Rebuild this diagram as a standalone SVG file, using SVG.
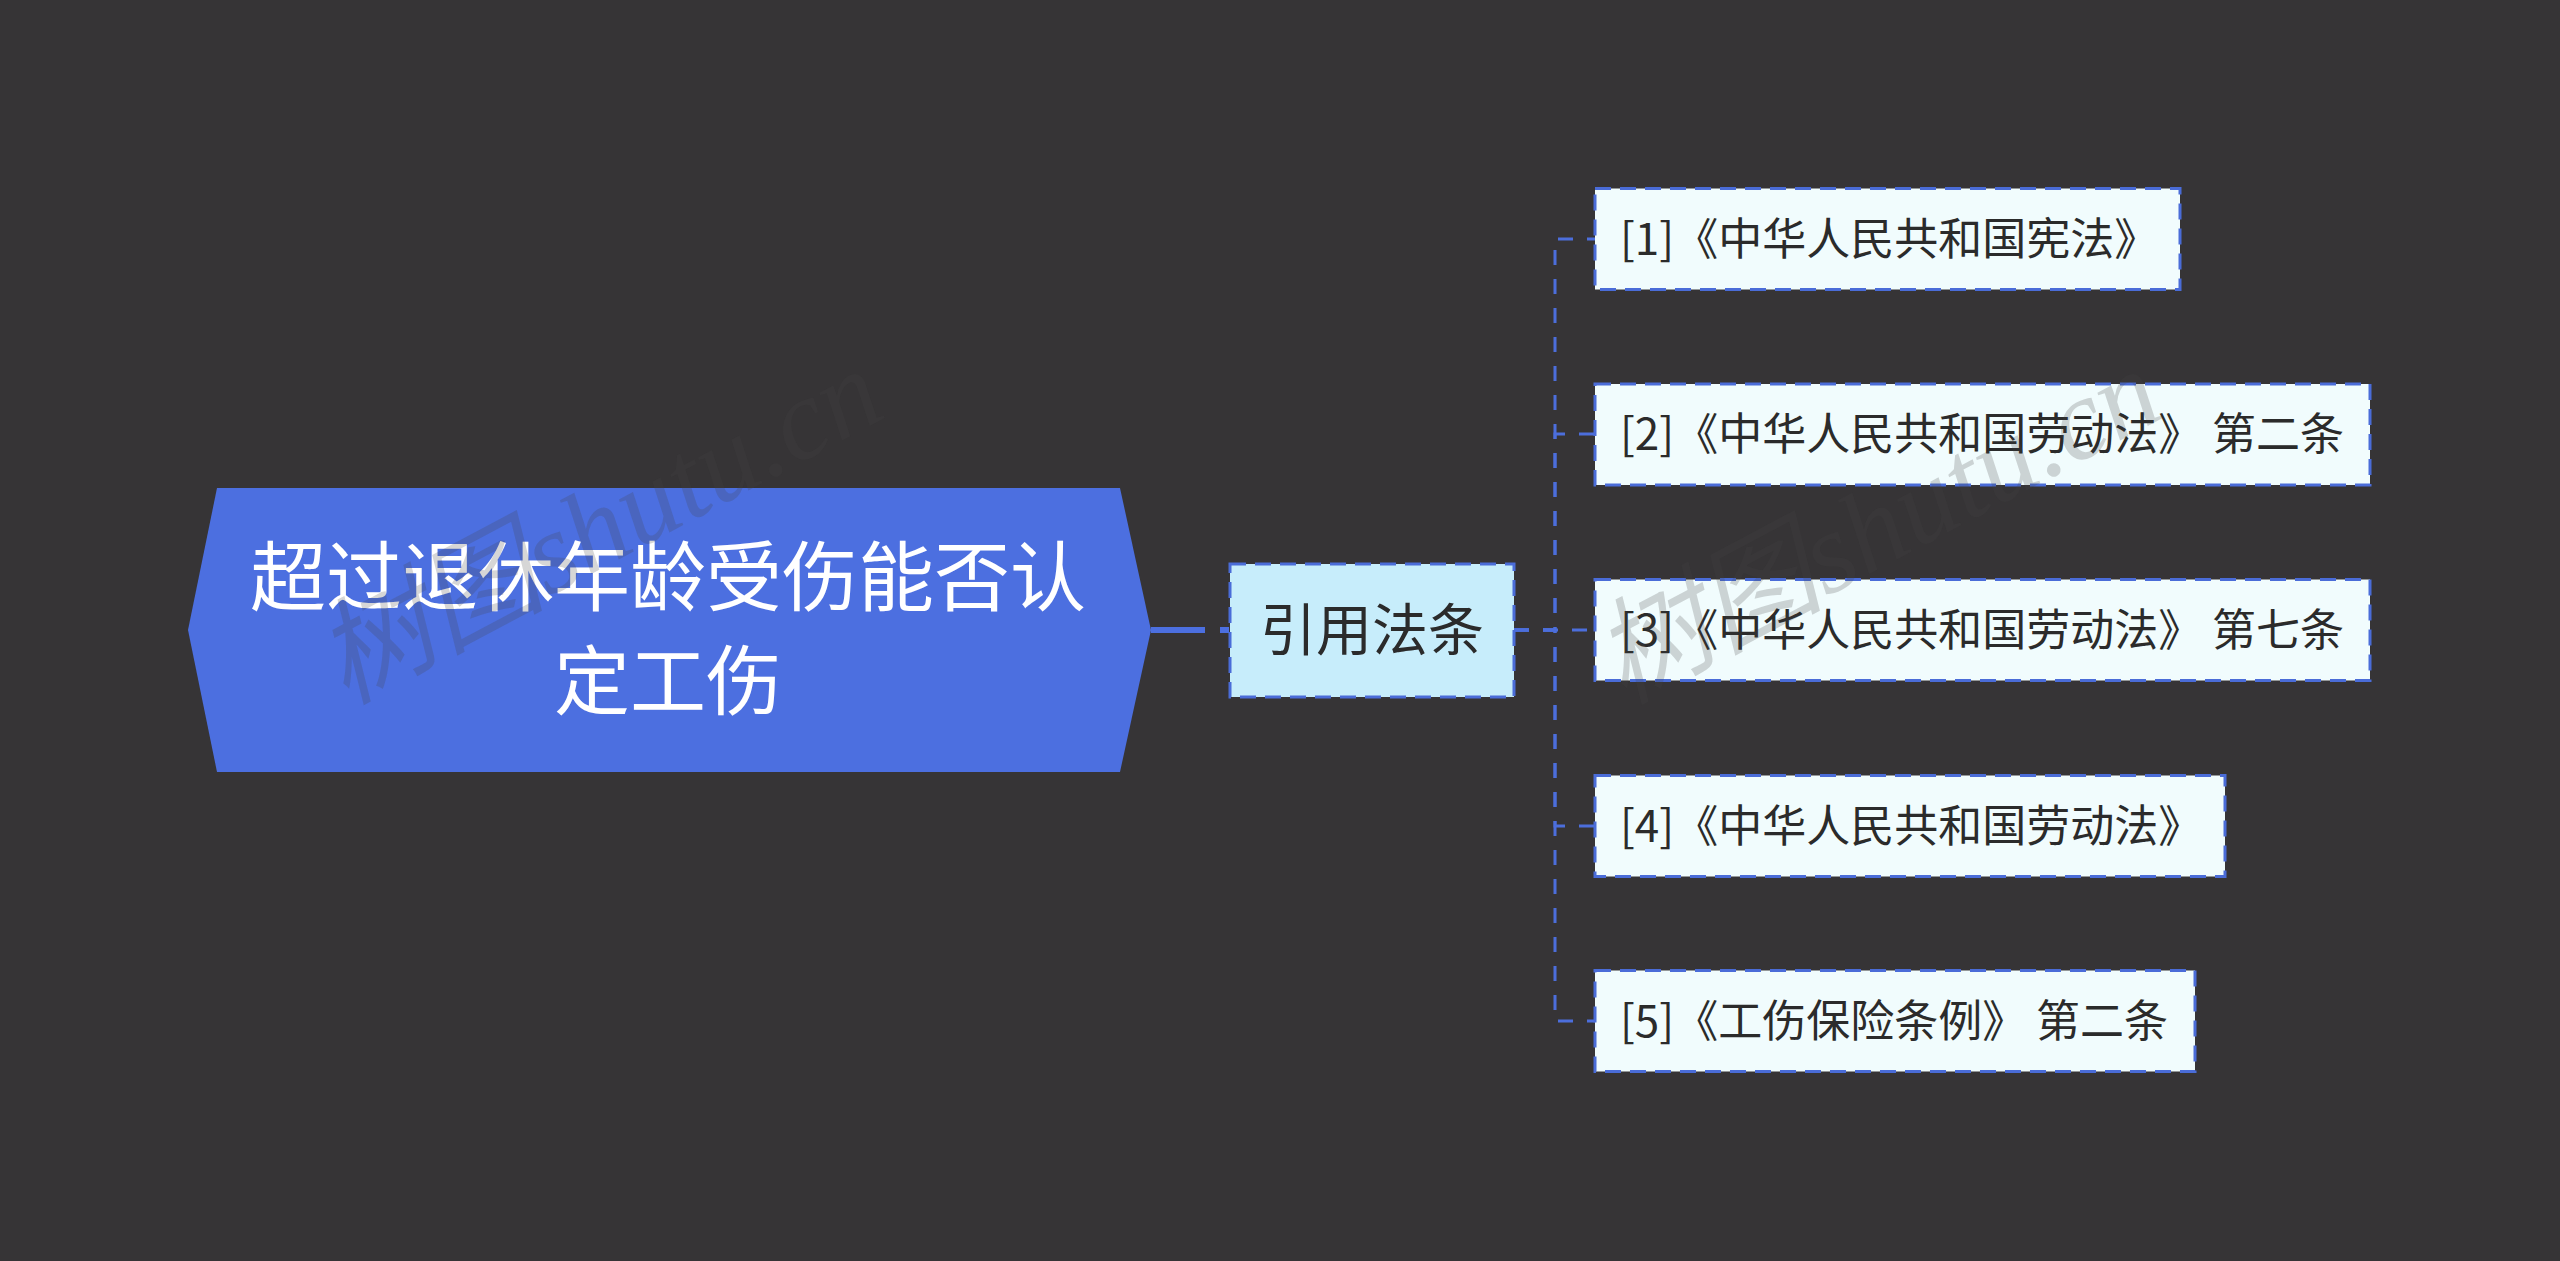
<svg xmlns="http://www.w3.org/2000/svg" width="2560" height="1261" viewBox="0 0 2560 1261">
<style>
.bg{fill:#363436}
.conn{fill:none;stroke:#4C6EDC;stroke-width:3;stroke-dasharray:15 14}
.main{fill:none;stroke:#4C6FE0;stroke-width:6;stroke-dasharray:54 15}
.root{fill:#4C6FE0}
.mid{fill:#C7EDFB;stroke:#4A6CD8;stroke-width:3;stroke-dasharray:16 9}
.leaf{fill:#F1FCFD;stroke:#4A6CD8;stroke-width:3;stroke-dasharray:16 9}
.t{font-family:"Noto Sans CJK SC","Noto Sans",sans-serif;fill:#2B2B2B}
.lt{font-family:"Noto Sans CJK SC","Noto Sans",sans-serif;fill:#2B2B2B;font-size:44px}
.rt{font-family:"Noto Sans CJK SC","Noto Sans",sans-serif;fill:#FFFFFF;font-size:76px;text-anchor:middle}
.wm{font-family:"Liberation Serif","Noto Sans CJK SC",serif;font-style:italic;font-size:115px;fill:#444444;fill-opacity:0.22}
</style>
<rect class="bg" x="0" y="0" width="2560" height="1261"/>
<g id="connectors">
<path class="main" d="M1151 630 H1229"/>
<path class="conn" d="M1514 630 H1555 V239 H1595"/>
<path class="conn" d="M1514 630 H1555 V434 H1595"/>
<path class="conn" d="M1514 630 H1555 H1595"/>
<path class="conn" d="M1514 630 H1555 V826 H1595"/>
<path class="conn" d="M1514 630 H1555 V1021 H1595"/>
</g>
<g id="root">
<polygon class="root" points="217,488 1120,488 1151,630 1120,772 217,772 188,630"/>
<text class="rt" x="668" y="605">超过退休年龄受伤能否认</text>
<text class="rt" x="668" y="709">定工伤</text>
</g>
<g id="mid">
<rect class="mid" x="1230" y="564" width="284" height="133"/>
<text class="t" x="1372" y="650" font-size="56" text-anchor="middle">引用法条</text>
</g>
<g id="leaf1">
<rect class="leaf" x="1595" y="188.5" width="585" height="101"/>
<text class="lt" x="1620" y="254.5">[1]《中华人民共和国宪法》</text>
</g>
<g id="leaf2">
<rect class="leaf" x="1595" y="384" width="775" height="101"/>
<text class="lt" x="1620" y="450">[2]《中华人民共和国劳动法》 第二条</text>
</g>
<g id="leaf3">
<rect class="leaf" x="1595" y="579.5" width="775" height="101"/>
<text class="lt" x="1620" y="645.5">[3]《中华人民共和国劳动法》 第七条</text>
</g>
<g id="leaf4">
<rect class="leaf" x="1595" y="775.5" width="630" height="101"/>
<text class="lt" x="1620" y="841.5">[4]《中华人民共和国劳动法》</text>
</g>
<g id="leaf5">
<rect class="leaf" x="1595" y="970.5" width="600" height="101"/>
<text class="lt" x="1620" y="1036.5">[5]《工伤保险条例》 第二条</text>
</g>
<g id="watermark">
<text class="wm" x="345" y="705" transform="rotate(-28 345 705)">树图shutu.cn</text>
<text class="wm" x="1623" y="705" transform="rotate(-28 1623 705)">树图shutu.cn</text>
</g>
</svg>
